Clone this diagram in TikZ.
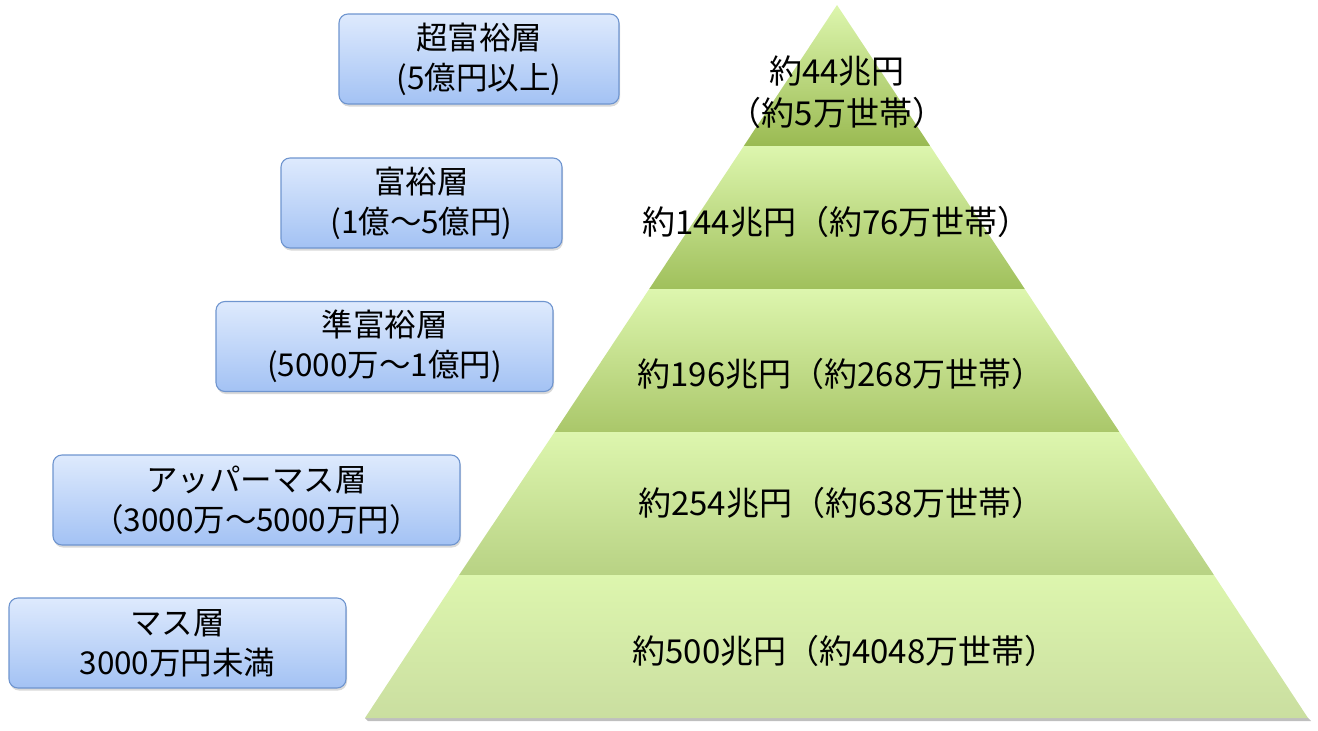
\documentclass[tikz,border=0pt]{standalone}
\usepackage{fontspec}
\setmainfont{Noto Sans CJK JP}
\usepackage{tikz}
\usetikzlibrary{shadows}
\usetikzlibrary{positioning}
\definecolor{tierline}{HTML}{6F95CF}
\definecolor{tiertop}{HTML}{DEEAFD}
\definecolor{tierbot}{HTML}{A3C2F4}
\definecolor{bandtop}{HTML}{DDF6AE}
\begin{document}
\begin{tikzpicture}[x=1pt,y=-1pt,
  tier/.style={rectangle,rounded corners=9pt,draw=tierline,line width=1.1pt,top color=tiertop,bottom color=tierbot,
    minimum height=90pt,align=center,font=\fontsize{31.5}{40}\selectfont,inner sep=0pt,
    drop shadow={shadow xshift=1pt,shadow yshift=-2.5pt,opacity=0.3}},
  band/.style={draw=none,top color=bandtop},
  amount/.style={font=\fontsize{33}{42}\selectfont,align=center,inner sep=0pt}]
  \useasboundingbox (0,0) rectangle (1318,731);
  % pyramid shadow
  \fill[black!25] (368,721) -- (1311,721) -- (1308,718) -- (365,718) -- cycle;
  % bands from top to bottom
  \shade[band,bottom color={rgb,255:red,154;green,186;blue,82}] (837,5) -- (930.2,146) -- (743.8,146) -- cycle;
  \shade[band,bottom color={rgb,255:red,160;green,192;blue,92}] (743.8,146) -- (930.2,146) -- (1024.8,289) -- (649.2,289) -- cycle;
  \shade[band,bottom color={rgb,255:red,170;green,199;blue,106}] (649.2,289) -- (1024.8,289) -- (1119.4,432) -- (554.6,432) -- cycle;
  \shade[band,bottom color={rgb,255:red,184;green,210;blue,132}] (554.6,432) -- (1119.4,432) -- (1213.9,575) -- (459.1,575) -- cycle;
  \shade[band,bottom color={rgb,255:red,202;green,222;blue,160}] (459.1,575) -- (1213.9,575) -- (1308,718) -- (365,718) -- cycle;
  % amounts
  \begin{scope}[every node/.style={amount}]
    \node (sum1) at (837,92) {約44兆円\\（約5万世帯）};
    \node (sum2) at (836.5,222) {約144兆円（約76万世帯）};
    \node (sum3) at (841,374) {約196兆円（約268万世帯）};
    \node (sum4) at (841.5,503) {約254兆円（約638万世帯）};
    \node (sum5) at (845,651) {約500兆円（約4048万世帯）};
  \end{scope}
  % tiers
  \node[tier,minimum width=280pt] (ultra) at (479,59) {超富裕層\\(5億円以上)};
  \node[tier,minimum width=281pt] (rich) at (421.5,203) {富裕層\\(1億～5億円)};
  \node[tier,minimum width=337pt] (nearrich) at (384.5,346.5) {準富裕層\\(5000万～1億円)};
  \node[tier,minimum width=407pt] (uppermass) at (256.5,500) {アッパーマス層\\（3000万～5000万円）};
  \node[tier,minimum width=337pt] (mass) at (177.5,643) {マス層\\3000万円未満};
\end{tikzpicture}
\end{document}
